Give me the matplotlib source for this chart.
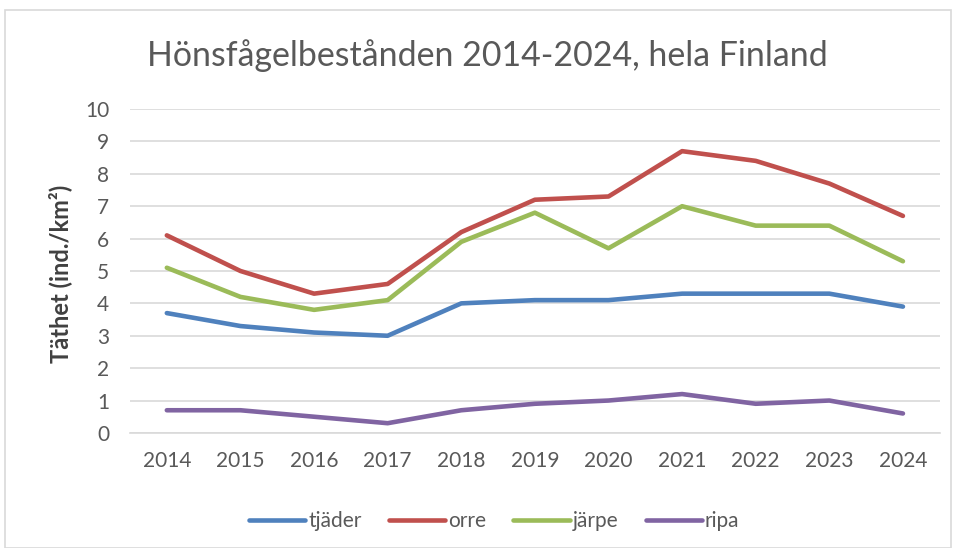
import matplotlib
matplotlib.use("Agg")
import matplotlib.pyplot as plt
from matplotlib.patches import Rectangle

years = ["2014", "2015", "2016", "2017", "2018", "2019", "2020", "2021", "2022", "2023", "2024"]
tjader = [3.7, 3.3, 3.1, 3.0, 4.0, 4.1, 4.1, 4.3, 4.3, 4.3, 3.9]
orre = [6.1, 5.0, 4.3, 4.6, 6.2, 7.2, 7.3, 8.7, 8.4, 7.7, 6.7]
jarpe = [5.1, 4.2, 3.8, 4.1, 5.9, 6.8, 5.7, 7.0, 6.4, 6.4, 5.3]
ripa = [0.7, 0.7, 0.5, 0.3, 0.7, 0.9, 1.0, 1.2, 0.9, 1.0, 0.6]

series = [("tjäder", tjader, "#4F81BD"), ("orre", orre, "#C0504D"),
          ("järpe", jarpe, "#9BBB59"), ("ripa", ripa, "#8064A2")]

plt.rcParams['font.family'] = ['Lato', 'DejaVu Sans']
fig = plt.figure(figsize=(9.56, 5.48), dpi=100)
ax = fig.add_axes([0.136, 0.210, 0.847, 0.591])

x = list(range(len(years)))
for name, vals, col in series:
    ax.plot(x, vals, color=col, lw=3.3, label=name, solid_capstyle='round', solid_joinstyle='round')

ax.set_xlim(-0.5, len(years) - 0.5)
ax.set_ylim(0, 10)
ax.set_yticks(range(0, 11))
ax.set_xticks(x)
ax.set_xticklabels(years)
ax.grid(axis='y', color='#D9D9D9', lw=1.2)
ax.set_axisbelow(True)
for s in ['top', 'right', 'left']:
    ax.spines[s].set_visible(False)
ax.spines['bottom'].set_color('#D9D9D9')
ax.spines['bottom'].set_linewidth(1.2)
ax.tick_params(axis='both', length=0, labelsize=15, colors='#595959')
ax.tick_params(axis='x', pad=13)
ax.tick_params(axis='y', pad=15)
ax.set_ylabel("Täthet (ind./km²)", fontsize=17, fontweight='bold', color='#404040')
ax.yaxis.set_label_coords(-0.071, 0.49)

fig.text(487 / 956, 1 - 66 / 548, "Hönsfågelbestånden 2014-2024, hela Finland", ha='center', va='baseline',
         fontsize=24.4, color='#595959')

leg = fig.legend(loc='center', bbox_to_anchor=(0.517, 1 - 521 / 548), ncol=4, frameon=False,
                 fontsize=15, handlelength=2.7, handletextpad=0.15, columnspacing=1.3)
for t in leg.get_texts():
    t.set_color('#595959')

fig.patches.append(Rectangle((0.005, 0.0), 0.99, 0.982, transform=fig.transFigure,
                             fill=False, edgecolor='#D9D9D9', lw=1.2))

fig.savefig("out.png", dpi=100)
